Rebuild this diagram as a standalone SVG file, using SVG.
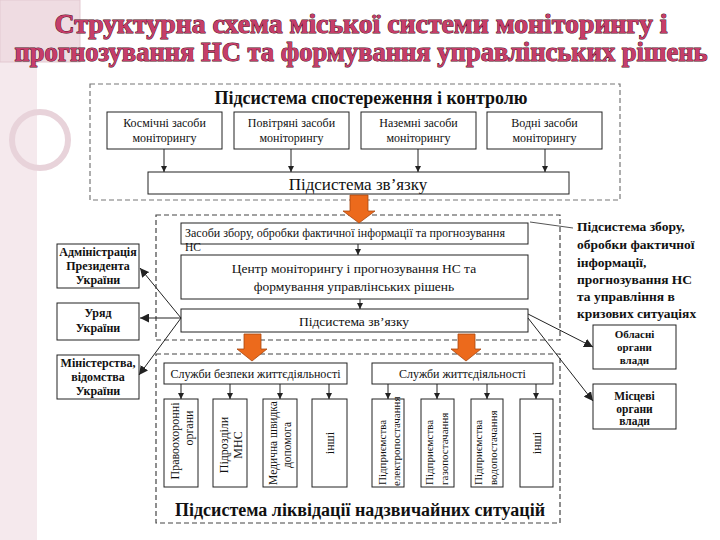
<svg xmlns="http://www.w3.org/2000/svg" width="720" height="540" viewBox="0 0 720 540">
<defs>
<style>
.t{font-family:"Liberation Serif","DejaVu Serif",serif;fill:#111}
.r{font-size:12px}
.b{font-weight:bold}
.box{fill:#fff;stroke:#222;stroke-width:1}
.dash{fill:none;stroke:#444;stroke-width:1.2;stroke-dasharray:5 3}
.ln{stroke:#222;stroke-width:1;fill:none}
.title{font-family:"Liberation Serif","DejaVu Serif",serif;font-weight:bold;font-size:27px;fill:#c63d6a;stroke:#4a0f22;stroke-width:1;paint-order:stroke}
.orange{fill:#ec6a1c;stroke:#a8460f;stroke-width:0.8}
</style>
<marker id="ah" viewBox="0 0 8 8" refX="8" refY="4" markerWidth="6" markerHeight="6" orient="auto" markerUnits="userSpaceOnUse">
<path d="M0,0 L8,4 L0,8 z" fill="#222"/>
</marker>
<marker id="ah2" viewBox="0 0 10 10" refX="10" refY="5" markerWidth="9" markerHeight="9" orient="auto" markerUnits="userSpaceOnUse">
<path d="M0,0 L10,5 L0,10 z" fill="#222"/>
</marker>
</defs>

<g id="background">
<rect x="0" y="0" width="720" height="540" fill="#fff"/>
<rect x="0" y="0" width="37" height="540" fill="#f5e9ed"/>
<rect x="0" y="0" width="80" height="62" fill="#efdce2" stroke="#e3c9d1" stroke-width="1"/>
<circle cx="40" cy="140" r="28" fill="none" stroke="#e8d3da" stroke-width="6"/>
</g>

<g id="title">
<text class="title" x="361" y="33" text-anchor="middle" textLength="613" lengthAdjust="spacingAndGlyphs">Структурна схема міської системи моніторингу і</text>
<text class="title" x="361" y="61" text-anchor="middle" textLength="693" lengthAdjust="spacingAndGlyphs">прогнозування НС та формування управлінських рішень</text>
</g>

<g id="containers">
<rect class="dash" x="90" y="84" width="530" height="116" style="stroke:#777"/>
<rect class="dash" x="156" y="215" width="404" height="125"/>
<rect class="dash" x="156" y="354" width="404" height="169"/>
</g>

<g id="observation">
<text class="t b" x="371" y="104" font-size="18" text-anchor="middle" textLength="313" lengthAdjust="spacingAndGlyphs">Підсистема спостереження і контролю</text>
</g>

<g id="space">
<rect class="box" x="107" y="112" width="115" height="37"/>
<text class="t r" x="164.5" y="127" text-anchor="middle">Космічні засоби</text>
<text class="t r" x="164.5" y="142" text-anchor="middle">моніторингу</text>
</g>
<g id="air">
<rect class="box" x="234" y="112" width="115" height="37"/>
<text class="t r" x="291.5" y="127" text-anchor="middle">Повітряні засоби</text>
<text class="t r" x="291.5" y="142" text-anchor="middle">моніторингу</text>
</g>
<g id="ground">
<rect class="box" x="361" y="112" width="115" height="37"/>
<text class="t r" x="418.5" y="127" text-anchor="middle">Наземні засоби</text>
<text class="t r" x="418.5" y="142" text-anchor="middle">моніторингу</text>
</g>
<g id="water">
<rect class="box" x="487" y="112" width="115" height="37"/>
<text class="t r" x="544.5" y="127" text-anchor="middle">Водні засоби</text>
<text class="t r" x="544.5" y="142" text-anchor="middle">моніторингу</text>
</g>

<g id="comm1">
<rect class="box" x="148" y="172" width="421" height="22"/>
<text class="t" x="358" y="190" font-size="17" text-anchor="middle">Підсистема зв’язку</text>
</g>

<g id="collect">
<rect class="box" x="181" y="223" width="347" height="21"/>
<text class="t" x="185" y="237" font-size="11.5" textLength="320" lengthAdjust="spacingAndGlyphs">Засоби збору, обробки фактичної інформації та прогнозування</text>
<text class="t" x="185" y="251" font-size="11.5">НС</text>
</g>

<g id="center">
<rect class="box" x="181" y="255" width="347" height="44"/>
<text class="t" x="354" y="273" font-size="13.5" text-anchor="middle">Центр моніторингу і прогнозування НС та</text>
<text class="t" x="354" y="291" font-size="13.5" text-anchor="middle">формування управлінських рішень</text>
</g>

<g id="comm2">
<rect class="box" x="181" y="309" width="347" height="23"/>
<text class="t" x="354" y="326" font-size="13.5" text-anchor="middle">Підсистема зв’язку</text>
</g>

<g id="collect-label">
<text class="t b" font-size="13.5">
<tspan x="577" y="231">Підсистема збору,</tspan>
<tspan x="577" y="249">обробки фактичної</tspan>
<tspan x="577" y="267">інформації,</tspan>
<tspan x="577" y="284">прогнозування НС</tspan>
<tspan x="577" y="301">та управління в</tspan>
<tspan x="577" y="318">кризових ситуаціях</tspan>
</text>
</g>

<g id="admin">
<rect class="box" x="57" y="244" width="82" height="44"/>
<text class="t b" font-size="12" text-anchor="middle"><tspan x="98" y="256">Адміністрація</tspan><tspan x="98" y="270">Президента</tspan><tspan x="98" y="284">України</tspan></text>
</g>
<g id="government">
<rect class="box" x="57" y="303" width="82" height="37"/>
<text class="t b" font-size="12" text-anchor="middle"><tspan x="98" y="317">Уряд</tspan><tspan x="98" y="332">України</tspan></text>
</g>
<g id="ministries">
<rect class="box" x="57" y="355" width="82" height="44"/>
<text class="t b" font-size="12" text-anchor="middle"><tspan x="98" y="367">Міністерства,</tspan><tspan x="98" y="381">відомства</tspan><tspan x="98" y="395">України</tspan></text>
</g>

<g id="regional">
<rect class="box" x="593" y="325" width="83" height="44"/>
<text class="t b" font-size="11" text-anchor="middle"><tspan x="634.5" y="338">Обласні</tspan><tspan x="634.5" y="351">органи</tspan><tspan x="634.5" y="364">влади</tspan></text>
</g>
<g id="local">
<rect class="box" x="593" y="384" width="83" height="45"/>
<text class="t b" font-size="11.5" text-anchor="middle"><tspan x="634.5" y="400">Місцеві</tspan><tspan x="634.5" y="413">органи</tspan><tspan x="634.5" y="425">влади</tspan></text>
</g>

<g id="safety">
<rect class="box" x="164" y="363" width="183" height="21"/>
<text class="t" x="255.5" y="378" font-size="12" text-anchor="middle">Служби безпеки життєдіяльності</text>
</g>
<g id="life">
<rect class="box" x="372" y="363" width="181" height="21"/>
<text class="t" x="462.5" y="378" font-size="12" text-anchor="middle">Служби життєдіяльності</text>
</g>

<g id="police">
<rect class="box" x="164" y="399" width="34" height="88"/>
<text class="t" font-size="12" transform="rotate(-90)" text-anchor="middle"><tspan x="-441" y="179">Правоохоронні</tspan><tspan x="-428" y="193">органи</tspan></text>
</g>
<g id="mns">
<rect class="box" x="213" y="399" width="34" height="88"/>
<text class="t" font-size="12" transform="rotate(-90)" text-anchor="middle"><tspan x="-445" y="228">Підрозділи</tspan><tspan x="-445" y="242">МНС</tspan></text>
</g>
<g id="medical">
<rect class="box" x="263" y="399" width="34" height="88"/>
<text class="t" font-size="11.5" transform="rotate(-90)" text-anchor="middle"><tspan x="-443" y="277">Медична швидка</tspan><tspan x="-445" y="291">допомога</tspan></text>
</g>
<g id="other1">
<rect class="box" x="312" y="399" width="35" height="88"/>
<text class="t" font-size="12" transform="rotate(-90)" text-anchor="middle" x="-443" y="334">інші</text>
</g>

<g id="electric">
<rect class="box" x="372" y="399" width="32" height="88"/>
<text class="t" font-size="11" transform="rotate(-90)"><tspan x="-485" y="386">Підприємства</tspan><tspan x="-486" y="400">електропостачання</tspan></text>
</g>
<g id="gas">
<rect class="box" x="421" y="399" width="33" height="88"/>
<text class="t" font-size="11" transform="rotate(-90)"><tspan x="-485" y="433">Підприємства</tspan><tspan x="-485" y="448">газопостачання</tspan></text>
</g>
<g id="watersupply">
<rect class="box" x="471" y="399" width="32" height="88"/>
<text class="t" font-size="11" transform="rotate(-90)"><tspan x="-485" y="482">Підприємства</tspan><tspan x="-485" y="497">водопостачання</tspan></text>
</g>
<g id="other2">
<rect class="box" x="520" y="399" width="33" height="88"/>
<text class="t" font-size="12" transform="rotate(-90)" text-anchor="middle" x="-443" y="541">інші</text>
</g>

<g id="liquidation">
<text class="t b" x="175" y="516" font-size="18" textLength="370" lengthAdjust="spacingAndGlyphs">Підсистема ліквідації надзвичайних ситуацій</text>
</g>

<g id="connectors">
<line class="ln" x1="164" y1="149" x2="164" y2="172" marker-end="url(#ah)"/>
<line class="ln" x1="291" y1="149" x2="291" y2="172" marker-end="url(#ah)"/>
<line class="ln" x1="418" y1="149" x2="418" y2="172" marker-end="url(#ah)"/>
<line class="ln" x1="545" y1="149" x2="545" y2="172" marker-end="url(#ah)"/>
<line class="ln" x1="358" y1="244" x2="358" y2="255" marker-end="url(#ah)"/>
<line class="ln" x1="360" y1="299" x2="360" y2="309" marker-end="url(#ah)"/>
<line class="ln" x1="181" y1="318" x2="140" y2="268" marker-end="url(#ah2)"/>
<line class="ln" x1="181" y1="318" x2="140" y2="318" marker-end="url(#ah2)"/>
<line class="ln" x1="181" y1="318" x2="139" y2="375" marker-end="url(#ah2)"/>
<line class="ln" x1="528" y1="314" x2="593" y2="347" marker-end="url(#ah2)"/>
<line class="ln" x1="528" y1="318" x2="593" y2="401" marker-end="url(#ah2)"/>
<line class="ln" x1="530" y1="222" x2="573" y2="228" style="stroke:#555"/>
<line class="ln" x1="181" y1="384" x2="181" y2="399" marker-end="url(#ah)"/>
<line class="ln" x1="230" y1="384" x2="230" y2="399" marker-end="url(#ah)"/>
<line class="ln" x1="280" y1="384" x2="280" y2="399" marker-end="url(#ah)"/>
<line class="ln" x1="329" y1="384" x2="329" y2="399" marker-end="url(#ah)"/>
<line class="ln" x1="388" y1="384" x2="388" y2="399" marker-end="url(#ah)"/>
<line class="ln" x1="437" y1="384" x2="437" y2="399" marker-end="url(#ah)"/>
<line class="ln" x1="487" y1="384" x2="487" y2="399" marker-end="url(#ah)"/>
<line class="ln" x1="536" y1="384" x2="536" y2="399" marker-end="url(#ah)"/>
<path class="orange" d="M350,195 L368,195 L368,211 L375,211 L359,223 L343,211 L350,211 Z"/>
<path class="orange" d="M244,334 L261,334 L261,349 L267,349 L252,361 L237,349 L244,349 Z"/>
<path class="orange" d="M458,334 L475,334 L475,349 L481,349 L466,361 L451,349 L458,349 Z"/>
</g>
</svg>
